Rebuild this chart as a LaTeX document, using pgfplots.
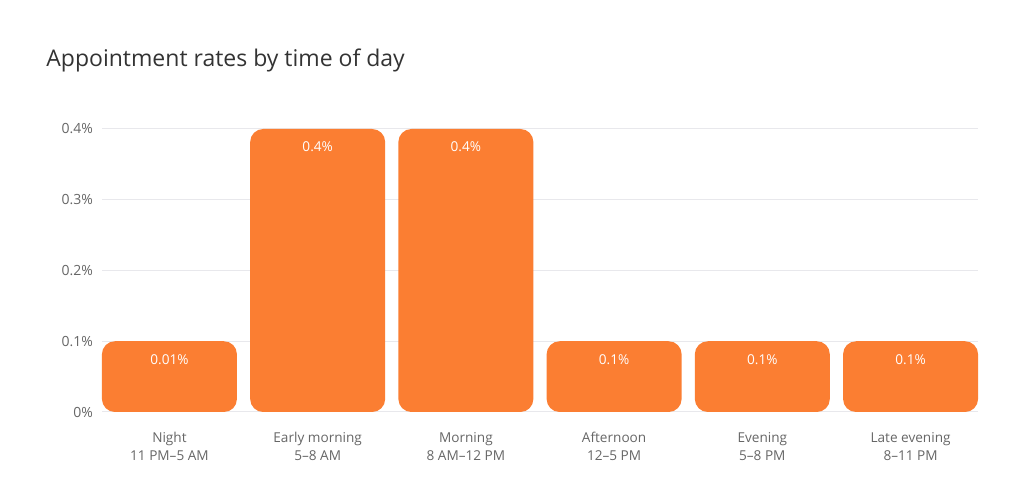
\documentclass[border=0pt]{standalone}
\usepackage{pgfplots}
\pgfplotsset{compat=1.18}
\usepackage{fontspec}
\setmainfont{Open Sans}
\definecolor{barorange}{RGB}{251,126,50}
\definecolor{gridgray}{RGB}{232,232,236}
\definecolor{ticktext}{RGB}{102,102,102}
\definecolor{titletext}{RGB}{51,51,51}
\begin{document}
\begin{tikzpicture}
% 1 px of the reference = 0.5pt
\path[use as bounding box] (0,0) rectangle (512pt,-250.5pt);
\node[anchor=west, text=titletext, font=\fontsize{11.5}{13}\selectfont, inner sep=0pt]
  at (23pt,-30pt) {Appointment rates by time of day};
\begin{axis}[
    at={(51pt,-206pt)}, anchor=south west,
    scale only axis,
    width=438pt, height=141.5pt,
    ybar, bar width=67.5pt,
    xmin=-0.455, xmax=5.455,
    ymin=0, ymax=0.4,
    clip=false,
    axis line style={draw=none},
    major tick length=0pt,
    ymajorgrids=true,
    grid style={gridgray, line width=0.5pt},
    ytick={0,0.1,0.2,0.3,0.4},
    yticklabels={0\%,0.1\%,0.2\%,0.3\%,0.4\%},
    xtick={0,1,2,3,4,5},
    xticklabels={{Night\\11 PM–5 AM},{Early morning\\5–8 AM},{Morning\\8 AM–12 PM},
                 {Afternoon\\12–5 PM},{Evening\\5–8 PM},{Late evening\\8–11 PM}},
    /pgf/number format/assume math mode=true,
    yticklabel style={font=\fontsize{7}{8}\selectfont, text=ticktext, xshift=-1pt},
    xticklabel style={font=\fontsize{6.8}{9}\selectfont, text=ticktext, align=center, yshift=-6.5pt},
    point meta=explicit symbolic,
    nodes near coords,
    every node near coord/.append style={anchor=center, yshift=-9pt, text=white,
        font=\fontsize{6.8}{8}\selectfont},
]
\addplot[fill=barorange, draw=none, rounded corners=6.5pt]
    coordinates {
    (0,0.1) [0.01\%]
    (1,0.4) [0.4\%]
    (2,0.4) [0.4\%]
    (3,0.1) [0.1\%]
    (4,0.1) [0.1\%]
    (5,0.1) [0.1\%]
    };
\end{axis}
\end{tikzpicture}
\end{document}
